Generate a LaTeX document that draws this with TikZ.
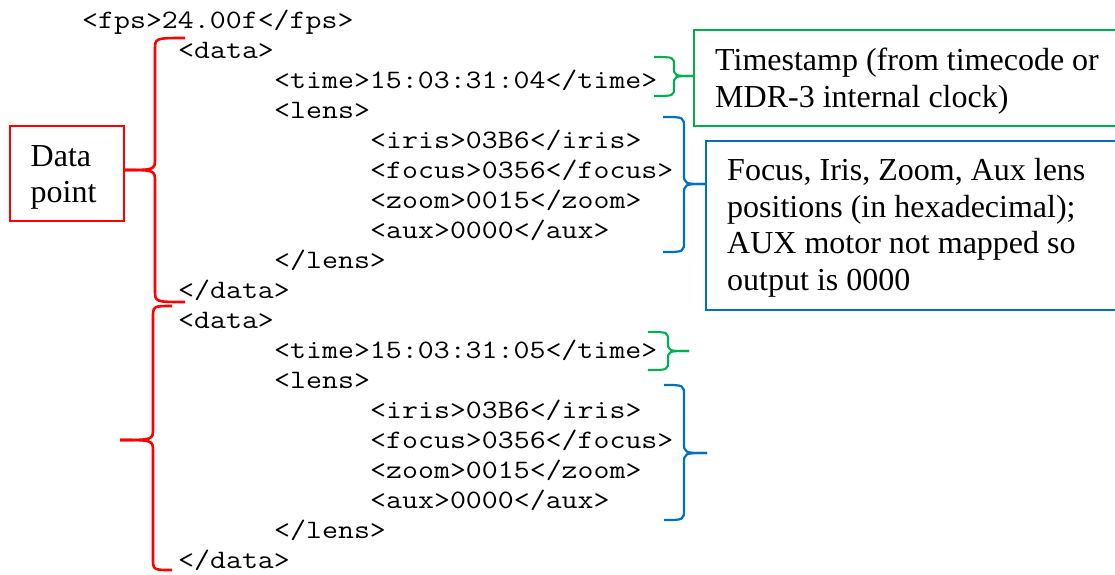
\documentclass[tikz,border=0pt]{standalone}
\usepackage{fontspec}
\setmainfont{Liberation Serif}
\setmonofont{Latin Modern Mono}[FakeStretch=1.165]
\definecolor{wred}{RGB}{255,0,0}
\definecolor{wgreen}{RGB}{0,176,80}
\definecolor{wblue}{RGB}{0,112,192}
\newcommand\curlyb[8]{% style, xend, top, xv, mid, xtip, bot, r
  \draw[#1] (#2,#3) .. controls (#4,#3) .. (#4,#3+#8) -- (#4,#5-#8) .. controls (#4,#5) .. (#6,#5);
  \draw[#1] (#2,#7) .. controls (#4,#7) .. (#4,#7-#8) -- (#4,#5+#8) .. controls (#4,#5) .. (#6,#5);
}
\tikzset{
  code/.style={anchor=base west, inner sep=0pt, font=\ttfamily\fontsize{26.6}{30}\selectfont},
  note/.style={anchor=base west, inner sep=0pt, font=\fontsize{32}{37}\selectfont},
  redline/.style={draw=wred, line width=2.6pt},
  greenline/.style={draw=wgreen, line width=2.1pt},
  blueline/.style={draw=wblue, line width=2.2pt},
}
\begin{document}
\begin{tikzpicture}[x=1pt,y=-1pt]
\clip (0,0) rectangle (1115,574);
\fill[white] (0,0) rectangle (1115,574);
% code lines
\def\bl#1{28.5+30.0*#1}
\node[code] (l0) at (82,{\bl{0}}) {<fps>24.00f</fps>};
\node[code] (l1) at (178,{\bl{1}}) {<data>};
\node[code] (l2) at (274,{\bl{2}}) {<time>15:03:31:04</time>};
\node[code] (l3) at (274,{\bl{3}}) {<lens>};
\node[code] (l4) at (370,{\bl{4}}) {<iris>03B6</iris>};
\node[code] (l5) at (370,{\bl{5}}) {<focus>0356</focus>};
\node[code] (l6) at (370,{\bl{6}}) {<zoom>0015</zoom>};
\node[code] (l7) at (370,{\bl{7}}) {<aux>0000</aux>};
\node[code] (l8) at (274,{\bl{8}}) {</lens>};
\node[code] (l9) at (178,{\bl{9}}) {</data>};
\node[code] (l10) at (178,{\bl{10}}) {<data>};
\node[code] (l11) at (274,{\bl{11}}) {<time>15:03:31:05</time>};
\node[code] (l12) at (274,{\bl{12}}) {<lens>};
\node[code] (l13) at (370,{\bl{13}}) {<iris>03B6</iris>};
\node[code] (l14) at (370,{\bl{14}}) {<focus>0356</focus>};
\node[code] (l15) at (370,{\bl{15}}) {<zoom>0015</zoom>};
\node[code] (l16) at (370,{\bl{16}}) {<aux>0000</aux>};
\node[code] (l17) at (274,{\bl{17}}) {</lens>};
\node[code] (l18) at (178,{\bl{18}}) {</data>};
% boxes
\draw[redline] (10,126) rectangle (124,221);
\node[note] (dp1) at (30.5,166) {Data};
\node[note] (dp2) at (30.5,202) {point};
\draw[greenline] (694,30) rectangle (1130,126);
\node[note] (ts1) at (715,70) {Timestamp (from timecode or};
\node[note] (ts2) at (715,107) {MDR-3 internal clock)};
\draw[blueline] (706,141) rectangle (1130,310);
\node[note] (lp1) at (727,180) {Focus, Iris, Zoom, Aux lens};
\node[note] (lp2) at (727,217) {positions (in hexadecimal);};
\node[note] (lp3) at (727,253) {AUX motor not mapped so};
\node[note] (lp4) at (727,290) {output is 0000};
% braces
\curlyb{redline}{185}{38}{155}{170}{124}{302}{12}
\curlyb{redline}{172}{306}{153}{440}{120}{570}{12}
\curlyb{greenline}{654}{57}{674}{76}{694}{96}{9}
\curlyb{greenline}{648}{332}{668}{351}{689}{370}{9}
\curlyb{blueline}{663}{117}{684}{184}{706}{252}{11}
\curlyb{blueline}{664}{385}{684}{453}{707}{520}{11}
\end{tikzpicture}
\end{document}
